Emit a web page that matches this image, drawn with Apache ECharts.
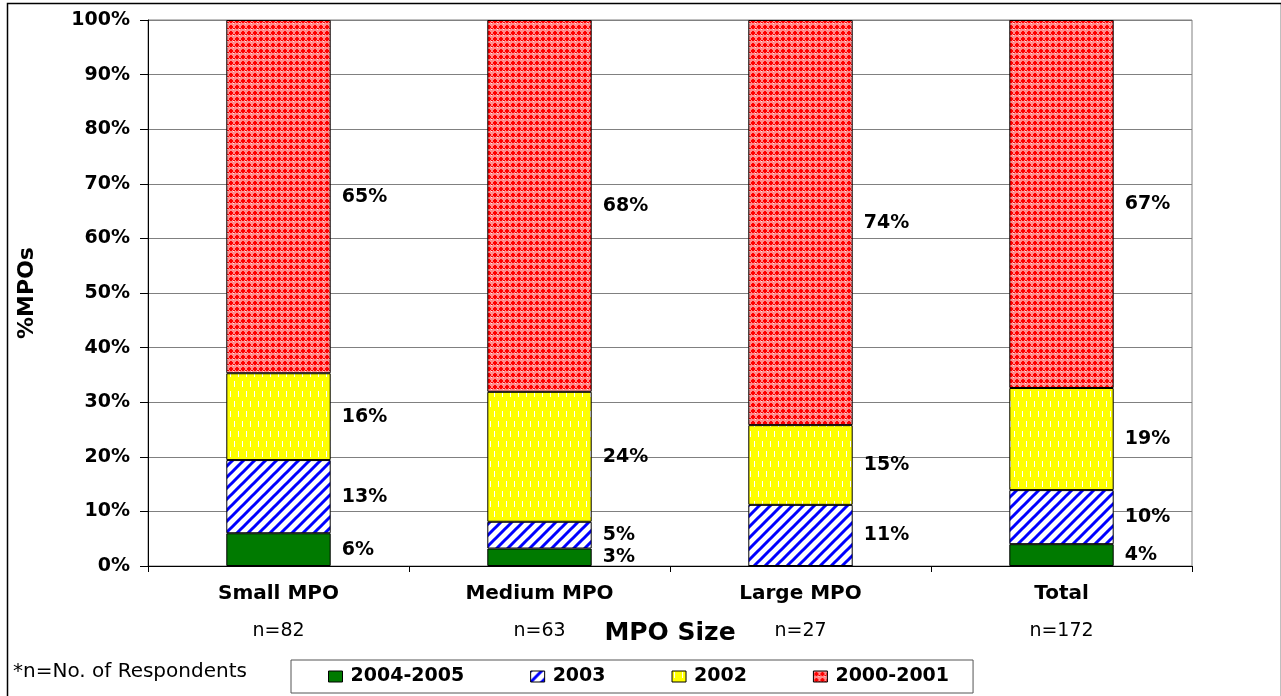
<!DOCTYPE html>
<html>
<head>
<meta charset="utf-8">
<script src="https://cdn.jsdelivr.net/npm/echarts@6/dist/echarts.min.js"></script>
<style>
html,body{margin:0;padding:0;background:#fff;}
#chart{width:1281px;height:696px;}
</style>
</head>
<body>
<div id="chart"></div>
<script>
// ---- data ----
const categories = ['Small MPO', 'Medium MPO', 'Large MPO', 'Total'];
const respondents = ['n=82', 'n=63', 'n=27', 'n=172'];
const seriesNames = ['2004-2005', '2003', '2002', '2000-2001'];
const s2004_2005 = [6.0, 3.2, 0, 4.0];
const s2003 = [13.4, 4.9, 11.2, 9.9];
const s2002 = [15.9, 23.8, 14.6, 18.7];
const s2000_2001 = [64.7, 68.1, 74.2, 67.4];
const yTicks = [0, 10, 20, 30, 40, 50, 60, 70, 80, 90, 100];

// ---- patterns ----
function tile(w, h, draw) {
  const c = document.createElement('canvas');
  c.width = w; c.height = h;
  const ctx = c.getContext('2d');
  draw(ctx, w, h);
  return { image: c, repeat: 'repeat' };
}
const greenFill = '#007a00';
const blueFill = tile(11, 11, (ctx, w, h) => {
  ctx.fillStyle = '#ffffff'; ctx.fillRect(0, 0, w, h);
  ctx.strokeStyle = '#0000ff'; ctx.lineWidth = 3;
  ctx.beginPath();
  ctx.moveTo(-w, w); ctx.lineTo(w, -w);
  ctx.moveTo(0, 2 * w); ctx.lineTo(2 * w, 0);
  ctx.moveTo(-w / 2, w * 1.5); ctx.lineTo(w * 1.5, -w / 2);
  ctx.stroke();
});
const yellowFill = tile(8, 20, (ctx, w, h) => {
  ctx.fillStyle = '#ffff00'; ctx.fillRect(0, 0, w, h);
  ctx.fillStyle = '#ffffff';
  ctx.fillRect(2, 1, 1, 6);
  ctx.fillRect(6, 11, 1, 6);
});
const redFill = tile(6, 6, (ctx, w, h) => {
  ctx.fillStyle = '#ff8c8c'; ctx.fillRect(0, 0, w, h);
  ctx.fillStyle = '#ff0000';
  ctx.fillRect(2, 1, 2, 4);
  ctx.fillRect(1, 2, 4, 2);
  ctx.fillRect(5, 4, 1, 1); ctx.fillRect(0, 4, 1, 1);
  ctx.fillStyle = '#ffe8e8';
  ctx.fillRect(5, 5, 1, 1);
});

const FONT = 'DejaVu Sans';
const fills = [greenFill, blueFill, yellowFill, redFill];
const values = [s2004_2005, s2003, s2002, s2000_2001];

const series = seriesNames.map((name, i) => ({
  name: name,
  type: 'bar',
  stack: 'all',
  barWidth: '40%',
  data: values[i],
  itemStyle: { color: fills[i], borderColor: '#000', borderWidth: 1 },
  label: {
    show: true,
    position: 'right',
    distance: 11,
    color: '#000',
    fontFamily: FONT,
    fontWeight: 'bold',
    fontSize: 19,
    formatter: p => (p.value > 0 ? Math.round(p.value) + '%' : '')
  },
  emphasis: { disabled: true }
}));

const chart = echarts.init(document.getElementById('chart'), null, { renderer: 'canvas' });
chart.setOption({
  animation: false,
  backgroundColor: '#ffffff',
  grid: {
    left: 148, right: 89, top: 20, bottom: 130,
    show: true, borderColor: '#808080', borderWidth: 1, backgroundColor: 'transparent'
  },
  xAxis: {
    type: 'category',
    data: categories,
    name: 'MPO Size',
    nameLocation: 'middle',
    nameGap: 55,
    nameMoveOverlap: false,
    nameTextStyle: { fontFamily: FONT, fontWeight: 'bold', fontSize: 25, color: '#000' },
    axisLine: { lineStyle: { color: '#000', width: 1 } },
    axisTick: { show: true, length: 6, lineStyle: { color: '#000' } },
    axisLabel: {
      margin: 16,
      interval: 0,
      formatter: (v, idx) => '{a|' + v + '}\n{b|' + respondents[idx] + '}',
      rich: {
        a: { fontFamily: FONT, fontWeight: 'bold', fontSize: 20, lineHeight: 24, color: '#000' },
        b: { fontFamily: FONT, fontWeight: 'normal', fontSize: 19, lineHeight: 50, color: '#000' }
      }
    }
  },
  yAxis: {
    type: 'value',
    min: yTicks[0],
    max: yTicks[yTicks.length - 1],
    interval: yTicks[1] - yTicks[0],
    name: '%MPOs',
    nameLocation: 'middle',
    nameGap: 110,
    nameRotate: 90,
    nameMoveOverlap: false,
    nameTextStyle: { fontFamily: FONT, fontWeight: 'bold', fontSize: 22, color: '#000' },
    axisLine: { show: true, lineStyle: { color: '#000', width: 1 } },
    axisTick: { show: true, length: 8, lineStyle: { color: '#000' } },
    axisLabel: {
      margin: 18,
      formatter: '{value}%',
      fontFamily: FONT, fontWeight: 'bold', fontSize: 19, color: '#000'
    },
    splitLine: { show: true, lineStyle: { color: '#808080', width: 1 } }
  },
  legend: {
    data: seriesNames,
    left: 291,
    top: 660,
    icon: 'rect',
    itemWidth: 14,
    itemHeight: 11,
    itemGap: 66,
    padding: [7, 24, 7, 37],
    borderColor: '#555',
    borderWidth: 1,
    selectedMode: false,
    itemStyle: { borderColor: '#000', borderWidth: 1 },
    textStyle: { fontFamily: FONT, fontWeight: 'bold', fontSize: 19, color: '#000', padding: [0, 0, 0, 3] }
  },
  graphic: [
    {
      type: 'rect',
      left: 5, top: 1,
      shape: { width: 1274, height: 720 },
      style: { fill: 'none', stroke: '#000', lineWidth: 1.5 },
      silent: true
    },
    {
      type: 'text',
      left: 13, top: 662,
      style: { text: '*n=No. of Respondents', fontFamily: FONT, fontSize: 20, fill: '#000' },
      silent: true
    }
  ],
  series: series
});
</script>
</body>
</html>
